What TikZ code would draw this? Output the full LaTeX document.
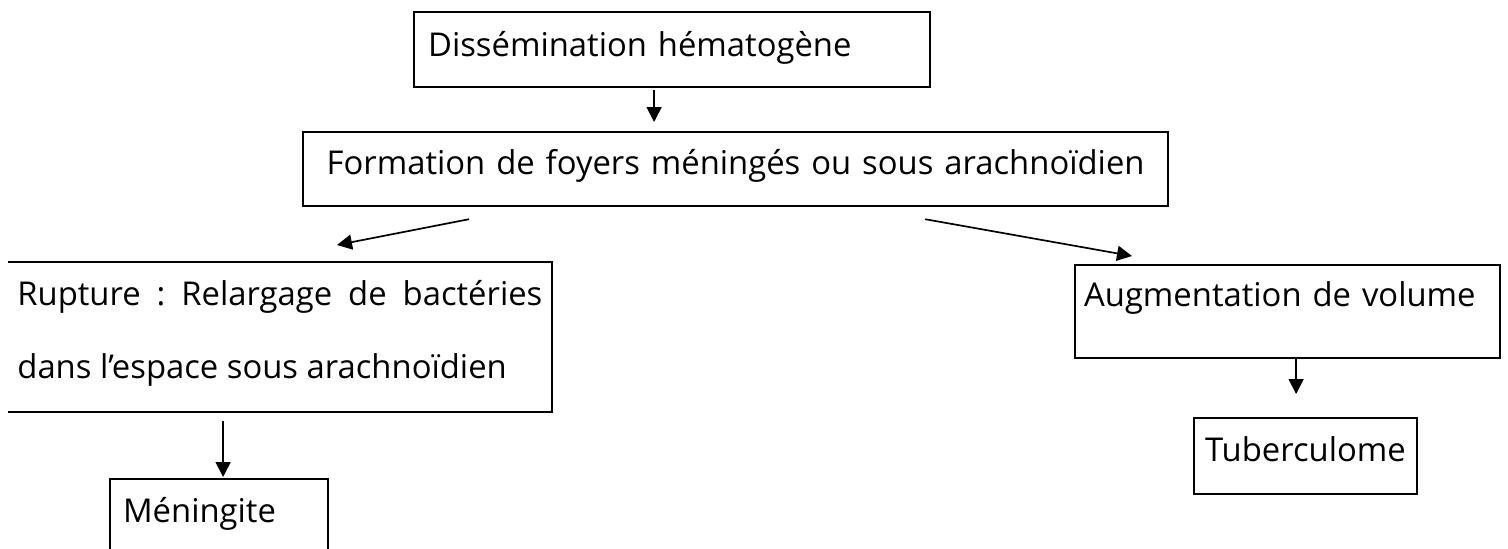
\documentclass[tikz,border=0pt]{standalone}
\usepackage{fontspec}
\setmainfont{Open Sans}
\usetikzlibrary{arrows.meta,calc}

\begin{document}
\begin{tikzpicture}[
        x=0.5pt, y=-0.5pt,
        every node/.style={anchor=north west, inner ysep=0pt, align=left,
            font=\fontsize{16.4pt}{18pt}\selectfont},
        box/.style={draw, line width=1.1pt},
        arr/.style={-{Triangle[width=7.5pt,length=7.5pt]}, line width=0.85pt}
    ]
    \useasboundingbox (0,0) rectangle (1508,548);

    % Nodes
    \node[box, inner xsep=7pt, text width=244pt, text height=22pt, text depth=15.5pt]
        (diss) at (413,11) {Dissémination hématogène};
    \node[box, inner xsep=5pt, text width=422.5pt, text height=21pt, text depth=16pt, align=center]
        (form) at (302,131) {Formation de foyers méningés ou sous arachnoïdien};
    \node[inner xsep=4.5pt, text width=262.5pt, text height=21.5pt, text depth=53pt, align=justify,
          font=\fontsize{16.4pt}{36.5pt}\selectfont\frenchspacing]
        (rupt) at (8,262) {Rupture : Relargage de bactéries\linebreak dans l’espace sous arachnoïdien};
    \node[box, inner xsep=6.5pt, text width=96pt, text height=21.5pt, text depth=17.5pt]
        (men) at (109,478) {Méningite};
    \node[box, inner xsep=4.5pt, text width=203.5pt, text height=20.5pt, text depth=26pt]
        (aug) at (1074,264) {Augmentation de volume};
    \node[box, inner xsep=5.5pt, text width=100.5pt, text height=21.5pt, text depth=16.5pt]
        (tub) at (1193,417) {Tuberculome};

    % open box on the left
    \draw[line width=1.1pt] (rupt.north west) -- (rupt.north east) -- (rupt.south east) -- (rupt.south west);

    % Edges
    \coordinate (d1) at ($(diss.south)+(-18,0)$);
    \coordinate (m1) at ($(men.north)+(4,0)$);
    \coordinate (t1) at ($(tub.north)+(-9.5,0)$);

    \draw[arr, shorten <=1pt, shorten >=4.5pt] (d1) -- (d1 |- form.north);
    \draw[arr] ($(form.south west)+(167,12)$) -- ($(rupt.north west)+(329,-17)$);
    \draw[arr] ($(form.south east)+(-244,12)$) -- ($(aug.north west)+(58,-8)$);
    \draw[arr, shorten <=4.5pt, shorten >=0.5pt] (m1 |- rupt.south) -- (m1);
    \draw[arr, shorten >=11.5pt] (t1 |- aug.south) -- (t1);

\end{tikzpicture}
\end{document}
